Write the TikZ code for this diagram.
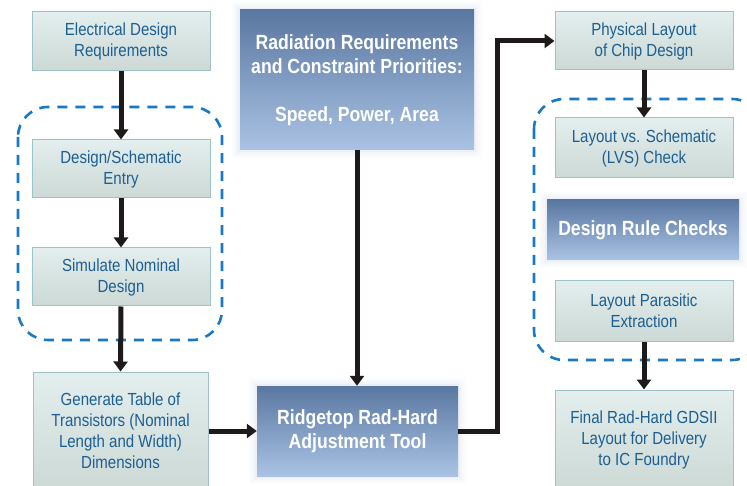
\documentclass[tikz,border=0pt]{standalone}
\usepackage{fontspec}
\setmainfont[FakeStretch=0.86]{Liberation Sans}
\usetikzlibrary{arrows.meta}
\definecolor{lttop}{HTML}{E3EEEE}
\definecolor{ltbot}{HTML}{CCD9D5}
\definecolor{ltborder}{HTML}{9EC3C6}
\definecolor{lttext}{HTML}{1D5F90}
\definecolor{dktop}{HTML}{5A77A1}
\definecolor{dkbot}{HTML}{AAC3E4}
\definecolor{halo}{HTML}{9FB4D4}
\definecolor{dashblue}{HTML}{1B79C4}
\definecolor{arrowblk}{HTML}{1E1A1A}
\tikzset{
  lightbox/.style={draw=ltborder, line width=1pt, top color=lttop, bottom color=ltbot,
    text=lttext, align=center, inner sep=0pt,
    font=\fontsize{17.5}{21}\selectfont},
  darkbox/.style={top color=dktop, bottom color=dkbot, text=white, align=center, inner sep=0pt,
    font=\fontsize{20.5}{24}\selectfont\bfseries},
  flow/.style={draw=arrowblk, line width=5pt, -{Triangle[width=14pt,length=10pt]}},
  group/.style={draw=dashblue, line width=2.6pt, dash pattern=on 10pt off 8pt, rounded corners=30pt}
}
\begin{document}
\begin{tikzpicture}[x=1pt,y=-1pt]
\useasboundingbox (0,0) rectangle (747,486);
\clip (0,0) rectangle (747,486);
\fill[white] (0,0) rectangle (747,486);
% dashed groups
\draw[group] (18,107) rectangle (222,340);
\draw[group] (534,99) rectangle (762,360);
% soft halos for dark boxes
\foreach \o/\a in {8/0.03,6/0.04,4/0.05,2/0.07}{
  \fill[halo, opacity=\a] (240-\o,10-\o) rectangle (474+\o,150+\o);
  \fill[halo, opacity=\a] (257-\o,386-\o) rectangle (458+\o,476+\o);
  \fill[halo, opacity=\a] (547-\o,200-\o) rectangle (739+\o,260+\o);
}
% left column
\node[lightbox, minimum width=178pt, minimum height=59pt] (elec) at (121,41.5) {Electrical Design\\Requirements};
\node[lightbox, minimum width=178pt, minimum height=58pt] (dse) at (121,169) {Design/Schematic\\Entry};
\node[lightbox, minimum width=178pt, minimum height=58pt] (sim) at (121,277) {Simulate Nominal\\Design};
\node[lightbox, minimum width=175pt, minimum height=118pt] (gen) at (120.5,431) {Generate Table of\\Transistors (Nominal\\Length and Width)\\Dimensions};
% center
\node[darkbox, minimum width=234pt, minimum height=140pt] (rad) at (357,80) {Radiation Requirements\\and Constraint Priorities:\\[24pt]Speed, Power, Area};
\node[darkbox, minimum width=201pt, minimum height=90pt] (ridge) at (357.5,431) {Ridgetop Rad-Hard\\Adjustment Tool};
% right column
\node[lightbox, minimum width=178pt, minimum height=58pt] (phys) at (644,41) {Physical Layout\\of Chip Design};
\node[lightbox, minimum width=178pt, minimum height=60pt] (lvs) at (644,148) {Layout vs. Schematic\\(LVS) Check};
\node[darkbox, minimum width=192pt, minimum height=60pt] (drc) at (643,230) {Design Rule Checks};
\node[lightbox, minimum width=178pt, minimum height=60pt] (lpe) at (644,311) {Layout Parasitic\\Extraction};
\node[lightbox, minimum width=178pt, minimum height=100pt] (final) at (644,440) {Final Rad-Hard GDSII\\Layout for Delivery\\to IC Foundry};
% connectors
\draw[flow] (elec.south) -- (dse.north);
\draw[flow] (dse.south) -- (sim.north);
\draw[flow] (sim.south) -- (gen.north);
\draw[flow] (gen.east) -- (ridge.west);
\draw[flow] (rad.south) -- (rad.south |- ridge.north);
\coordinate (bend) at (497,41);
\draw[flow, line join=miter] (ridge.east) -| (bend) -- (phys.west);
\draw[flow] (phys.south) -- (lvs.north);
\draw[flow] (lpe.south) -- (final.north);
\end{tikzpicture}
\end{document}
